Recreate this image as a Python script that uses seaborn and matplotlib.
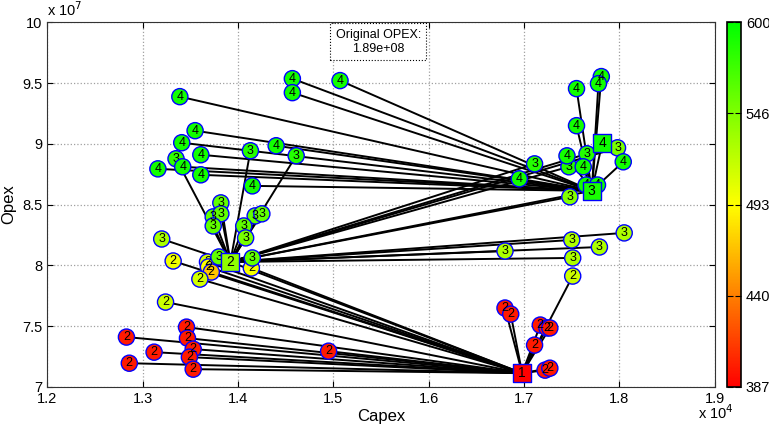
import matplotlib
matplotlib.use("Agg")
import matplotlib.pyplot as plt
import seaborn as sns
import numpy as np
from matplotlib.colors import LinearSegmentedColormap, Normalize
from matplotlib.cm import ScalarMappable

# capex in units of 1e4, opex in units of 1e7
hub_x = [1.698, 1.392, 1.771, 1.782]
hub_y = [7.113, 8.028, 8.613, 9.009]
hub_c = [387, 540, 590, 595]
hub_label = ["1", "2", "3", "4"]

# stage 2 points (linked to hub 1)
s2_x = [1.346, 1.283, 1.347, 1.353, 1.312, 1.495, 1.349, 1.286, 1.353,
        1.680, 1.686, 1.717, 1.724, 1.727, 1.711, 1.722, 1.727,
        1.751, 1.332, 1.368, 1.369, 1.372, 1.360, 1.324, 1.414]
s2_y = [7.492, 7.410, 7.401, 7.311, 7.286, 7.294, 7.245, 7.195, 7.146,
        7.649, 7.599, 7.509, 7.485, 7.485, 7.344, 7.138, 7.154,
        7.912, 8.036, 8.028, 7.987, 7.945, 7.887, 7.698, 7.978]
s2_c = [398, 398, 398, 398, 398, 398, 398, 398, 398,
        398, 398, 398, 398, 398, 398, 398, 398,
        515, 500, 512, 495, 470, 512, 515, 497]

# stage 3 points (linked to hub 2)
s3_x = [1.382, 1.374, 1.382, 1.374, 1.418, 1.425, 1.406, 1.408, 1.320,
        1.380, 1.415, 1.413, 1.461, 1.335,
        1.805, 1.750, 1.779, 1.680, 1.751,
        1.711, 1.766, 1.747, 1.798, 1.748]
s3_y = [8.514, 8.399, 8.424, 8.324, 8.407, 8.424, 8.324, 8.226, 8.217,
        8.069, 8.061, 8.943, 8.902, 8.877,
        8.267, 8.209, 8.151, 8.118, 8.061,
        8.835, 8.918, 8.811, 8.967, 8.564]
s3_c = [560, 560, 560, 560, 560, 560, 560, 550, 530,
        560, 560, 585, 585, 580,
        528, 528, 528, 528, 528,
        585, 585, 585, 550, 545]

# stage 4 points (linked to hub 3)
s4_x = [1.457, 1.457, 1.507, 1.339, 1.355, 1.341, 1.361, 1.316, 1.342,
        1.361, 1.415, 1.440, 1.695, 1.755, 1.781, 1.778, 1.755, 1.804,
        1.745, 1.762, 1.765, 1.777]
s4_y = [9.536, 9.421, 9.520, 9.388, 9.108, 9.009, 8.910, 8.794, 8.811,
        8.745, 8.654, 8.984, 8.712, 9.454, 9.553, 9.495, 9.149, 8.852,
        8.901, 8.811, 8.661, 8.661]
s4_c = [592] * len(s4_x)

stages = [("2", s2_x, s2_y, s2_c, 0),
          ("3", s3_x, s3_y, s3_c, 1),
          ("4", s4_x, s4_y, s4_c, 2)]

cmap = LinearSegmentedColormap.from_list("ryg", [(1, 0, 0), (1, 1, 0), (0, 1, 0)])
cmin, cmax = 387, 600
norm = Normalize(cmin, cmax)

plt.rcParams["font.family"] = ["Liberation Sans", "DejaVu Sans"]
fig = plt.figure(figsize=(7.69, 4.28), dpi=100)
ax = fig.add_axes([0.0615, 0.096, 0.868, 0.852])

# links
for lab, xs, ys, cs, parent in stages:
    for x, y in zip(xs, ys):
        ax.plot([x, hub_x[parent]], [y, hub_y[parent]], color="black", lw=1.4, zorder=2)
for i in range(1, 4):
    ax.plot([hub_x[i], hub_x[i - 1]], [hub_y[i], hub_y[i - 1]], color="black", lw=1.4, zorder=2)

# points
for lab, xs, ys, cs, parent in stages:
    sns.scatterplot(x=xs, y=ys, hue=cs, palette=cmap, hue_norm=(cmin, cmax),
                    s=135, edgecolor="blue", linewidth=1, legend=False, ax=ax, zorder=3)
    for x, y in zip(xs, ys):
        ax.text(x, y, lab, ha="center", va="center", fontsize=9, zorder=3)

sns.scatterplot(x=hub_x, y=hub_y, hue=hub_c, palette=cmap, hue_norm=(cmin, cmax),
                marker="s", s=170, edgecolor="blue", linewidth=1, legend=False, ax=ax, zorder=4)
for x, y, lab in zip(hub_x, hub_y, hub_label):
    ax.text(x, y, lab, ha="center", va="center", fontsize=10, zorder=5)

ax.set_xlim(1.2, 1.9)
ax.set_ylim(7, 10)
ax.set_xticks(np.arange(1.2, 1.91, 0.1))
ax.set_yticks(np.arange(7, 10.01, 0.5))
ax.set_xticklabels(["1.2", "1.3", "1.4", "1.5", "1.6", "1.7", "1.8", "1.9"])
ax.set_yticklabels(["7", "7.5", "8", "8.5", "9", "9.5", "10"])
ax.tick_params(direction="in", top=True, right=True, labelsize=10.5, length=4)
ax.grid(True, linestyle=":", color="#a0a0a0", lw=0.9)
ax.set_axisbelow(True)
for sp in ax.spines.values():
    sp.set_color("#333333")
ax.set_xlabel("Capex", fontsize=12, labelpad=2)
ax.set_ylabel("Opex", fontsize=12, labelpad=4)
ax.text(0.0, 1.008, r"x 10$^7$", transform=ax.transAxes, fontsize=10.5, va="bottom")
ax.text(0.975, -0.045, r"x 10$^4$", transform=ax.transAxes, fontsize=10.5, va="top", ha="left")

ax.text(1.547, 9.84, "Original OPEX:\n1.89e+08", ha="center", va="center", fontsize=9,
        bbox=dict(boxstyle="square,pad=0.45", fc="white", ec="black", ls=":", lw=0.8), zorder=6)

cax = fig.add_axes([0.9455, 0.096, 0.018, 0.852])
ticks = np.linspace(cmin, cmax, 5)
cb = fig.colorbar(ScalarMappable(norm=norm, cmap=cmap), cax=cax, ticks=ticks)
cb.ax.set_yticklabels([str(int(t)) for t in ticks])
cb.ax.tick_params(direction="in", length=4, labelsize=10.5, left=True, right=True)
cb.outline.set_linewidth(1.2)

fig.savefig("out.png", dpi=100)
